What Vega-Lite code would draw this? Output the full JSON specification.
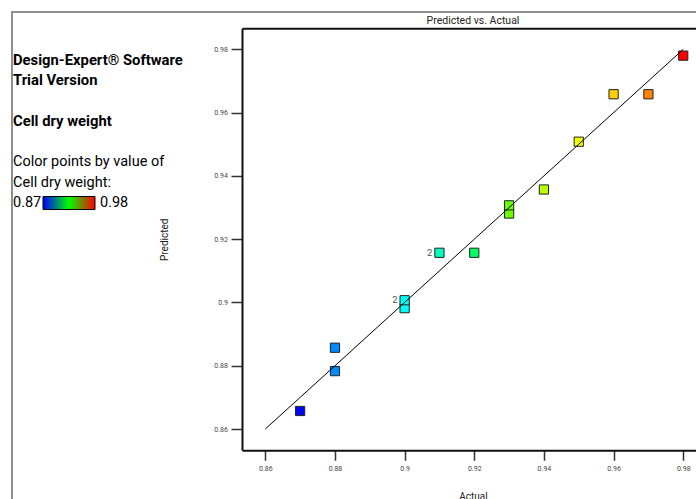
{
  "$schema": "https://vega.github.io/schema/vega-lite/v6.json",
  "autosize": "none",
  "padding": {"left": 12, "top": 12, "right": 0, "bottom": 0},
  "width": 700,
  "height": 500,
  "view": {"stroke": "#8f8f8f", "strokeWidth": 2},
  "config": {"font": "Roboto", "background": "white"},
  "title": {"text": "Predicted vs. Actual", "font": "Roboto", "fontSize": 10.5, "fontWeight": "normal", "color": "#222", "anchor": "middle", "baseline": "middle", "offset": 0, "dx": 111, "dy": 19},
  "datasets": {
    "runs": [
      {"actual": 0.87, "predicted": 0.8657, "count": 1},
      {"actual": 0.88, "predicted": 0.8783, "count": 1},
      {"actual": 0.88, "predicted": 0.8857, "count": 1},
      {"actual": 0.90, "predicted": 0.8982, "count": 1},
      {"actual": 0.90, "predicted": 0.9007, "count": 2},
      {"actual": 0.91, "predicted": 0.9157, "count": 2},
      {"actual": 0.92, "predicted": 0.9157, "count": 1},
      {"actual": 0.93, "predicted": 0.9281, "count": 1},
      {"actual": 0.93, "predicted": 0.9307, "count": 1},
      {"actual": 0.94, "predicted": 0.9357, "count": 1},
      {"actual": 0.95, "predicted": 0.9508, "count": 1},
      {"actual": 0.96, "predicted": 0.9658, "count": 1},
      {"actual": 0.97, "predicted": 0.9658, "count": 1},
      {"actual": 0.98, "predicted": 0.978, "count": 1}
    ],
    "fit": [
      {"actual": 0.86, "predicted": 0.86},
      {"actual": 0.98, "predicted": 0.98}
    ],
    "notes": [
      {"line": 1, "kind": "head", "text": "Design-Expert® Software"},
      {"line": 2, "kind": "head", "text": "Trial Version"},
      {"line": 4, "kind": "head", "text": "Cell dry weight"},
      {"line": 6, "kind": "body", "text": "Color points by value of"},
      {"line": 7, "kind": "body", "text": "Cell dry weight:"},
      {"line": 8, "kind": "body", "text": "0.87"}
    ],
    "one": [{}]
  },
  "layer": [
    {
      "data": {"name": "notes"},
      "transform": [{"filter": "datum.kind === 'head'"}],
      "mark": {"type": "text", "align": "left", "baseline": "middle", "font": "Roboto", "fontWeight": "bold", "fontSize": 14.8, "color": "#000"},
      "encoding": {
        "x": {"datum": 1, "type": "quantitative", "scale": {"domain": [0, 230], "range": [0, 230], "nice": false, "zero": false}, "axis": null},
        "y": {"field": "line", "type": "quantitative", "scale": {"domain": [1, 8], "range": [48.5, 191], "nice": false, "zero": false}, "axis": null},
        "text": {"field": "text"}
      }
    },
    {
      "data": {"name": "notes"},
      "transform": [{"filter": "datum.kind === 'body'"}],
      "mark": {"type": "text", "align": "left", "baseline": "middle", "font": "Roboto", "fontSize": 14.5, "color": "#000"},
      "encoding": {
        "x": {"datum": 1, "type": "quantitative", "scale": {"domain": [0, 230], "range": [0, 230], "nice": false, "zero": false}, "axis": null},
        "y": {"field": "line", "type": "quantitative", "scale": {"domain": [1, 8], "range": [48.5, 191], "nice": false, "zero": false}, "axis": null},
        "text": {"field": "text"}
      }
    },
    {
      "data": {"name": "one"},
      "mark": {"type": "rect", "stroke": "#000", "strokeWidth": 1, "fill": {"gradient": "linear", "x1": 0, "y1": 0, "x2": 1, "y2": 0, "stops": [{"offset": 0, "color": "#0000ff"}, {"offset": 0.5, "color": "#00ff00"}, {"offset": 1, "color": "#ff0000"}]}},
      "encoding": {
        "x": {"datum": 31, "type": "quantitative", "scale": {"domain": [0, 230], "range": [0, 230], "nice": false, "zero": false}, "axis": null},
        "x2": {"datum": 83},
        "y": {"datum": 7.68, "type": "quantitative", "scale": {"domain": [1, 8], "range": [48.5, 191], "nice": false, "zero": false}, "axis": null},
        "y2": {"datum": 8.32}
      }
    },
    {
      "data": {"name": "one"},
      "mark": {"type": "text", "align": "left", "baseline": "middle", "font": "Roboto", "fontSize": 14.5, "color": "#000", "text": "0.98"},
      "encoding": {
        "x": {"datum": 88, "type": "quantitative", "scale": {"domain": [0, 230], "range": [0, 230], "nice": false, "zero": false}, "axis": null},
        "y": {"datum": 8, "type": "quantitative", "scale": {"domain": [1, 8], "range": [48.5, 191], "nice": false, "zero": false}, "axis": null}
      }
    },
    {
      "data": {"name": "runs"},
      "mark": {"type": "square", "filled": true, "size": 85, "stroke": "#222", "strokeWidth": 1, "opacity": 1},
      "encoding": {
        "x": {"field": "actual", "type": "quantitative", "title": "Actual",
          "scale": {"domain": [0.85331, 0.98596], "range": [230, 692], "nice": false, "zero": false},
          "axis": {"orient": "bottom", "offset": -61.7, "values": [0.86, 0.88, 0.9, 0.92, 0.94, 0.96, 0.98], "format": ".2~f", "grid": false, "labelFont": "Roboto", "labelFontSize": 7, "labelColor": "#444", "labelPadding": 4, "labelFlush": false, "tickSize": 10, "tickWidth": 1.5, "tickColor": "#333", "domainColor": "#111", "domainWidth": 2, "titleFont": "Roboto", "titleFontSize": 10, "titleFontWeight": "normal", "titleColor": "#222", "titlePadding": 20}},
        "y": {"field": "predicted", "type": "quantitative", "title": "Predicted",
          "scale": {"domain": [0.85328, 0.98664], "range": [438.3, 16.3], "nice": false, "zero": false},
          "axis": {"orient": "left", "offset": -230, "values": [0.86, 0.88, 0.9, 0.92, 0.94, 0.96, 0.98], "format": ".2~f", "grid": false, "labelFont": "Roboto", "labelFontSize": 7, "labelColor": "#444", "labelPadding": 3.5, "labelFlush": false, "tickSize": 11, "tickWidth": 1.5, "tickColor": "#333", "domainColor": "#111", "domainWidth": 2, "titleFont": "Roboto", "titleFontSize": 10, "titleFontWeight": "normal", "titleColor": "#222", "titlePadding": 44}},
        "color": {"field": "actual", "type": "quantitative", "legend": null,
          "scale": {"domain": [0.87, 0.8975, 0.925, 0.9525, 0.98], "range": ["#0000ff", "#00ffff", "#00ff00", "#ffff00", "#ff0000"]}}
      }
    },
    {
      "data": {"name": "fit"},
      "mark": {"type": "line", "color": "#000", "strokeWidth": 1},
      "encoding": {
        "x": {"field": "actual", "type": "quantitative",
          "scale": {"domain": [0.85331, 0.98596], "range": [230, 692], "nice": false, "zero": false},
          "axis": {"orient": "top", "offset": -16.3, "ticks": false, "labels": false, "title": null, "grid": false, "domainColor": "#111", "domainWidth": 2}},
        "y": {"field": "predicted", "type": "quantitative",
          "scale": {"domain": [0.85328, 0.98664], "range": [438.3, 16.3], "nice": false, "zero": false}, "axis": null}
      }
    },
    {
      "data": {"name": "runs"},
      "transform": [{"filter": "datum.count > 1"}],
      "mark": {"type": "text", "align": "right", "baseline": "middle", "dx": -7, "font": "Roboto", "fontSize": 9.5, "color": "#555"},
      "encoding": {
        "x": {"field": "actual", "type": "quantitative",
          "scale": {"domain": [0.85331, 0.98596], "range": [230, 692], "nice": false, "zero": false}, "axis": null},
        "y": {"field": "predicted", "type": "quantitative",
          "scale": {"domain": [0.85328, 0.98664], "range": [438.3, 16.3], "nice": false, "zero": false}, "axis": null},
        "text": {"field": "count", "type": "quantitative"}
      }
    }
  ],
  "resolve": {"scale": {"x": "independent", "y": "independent", "color": "independent"}, "axis": {"x": "independent", "y": "independent"}}
}
